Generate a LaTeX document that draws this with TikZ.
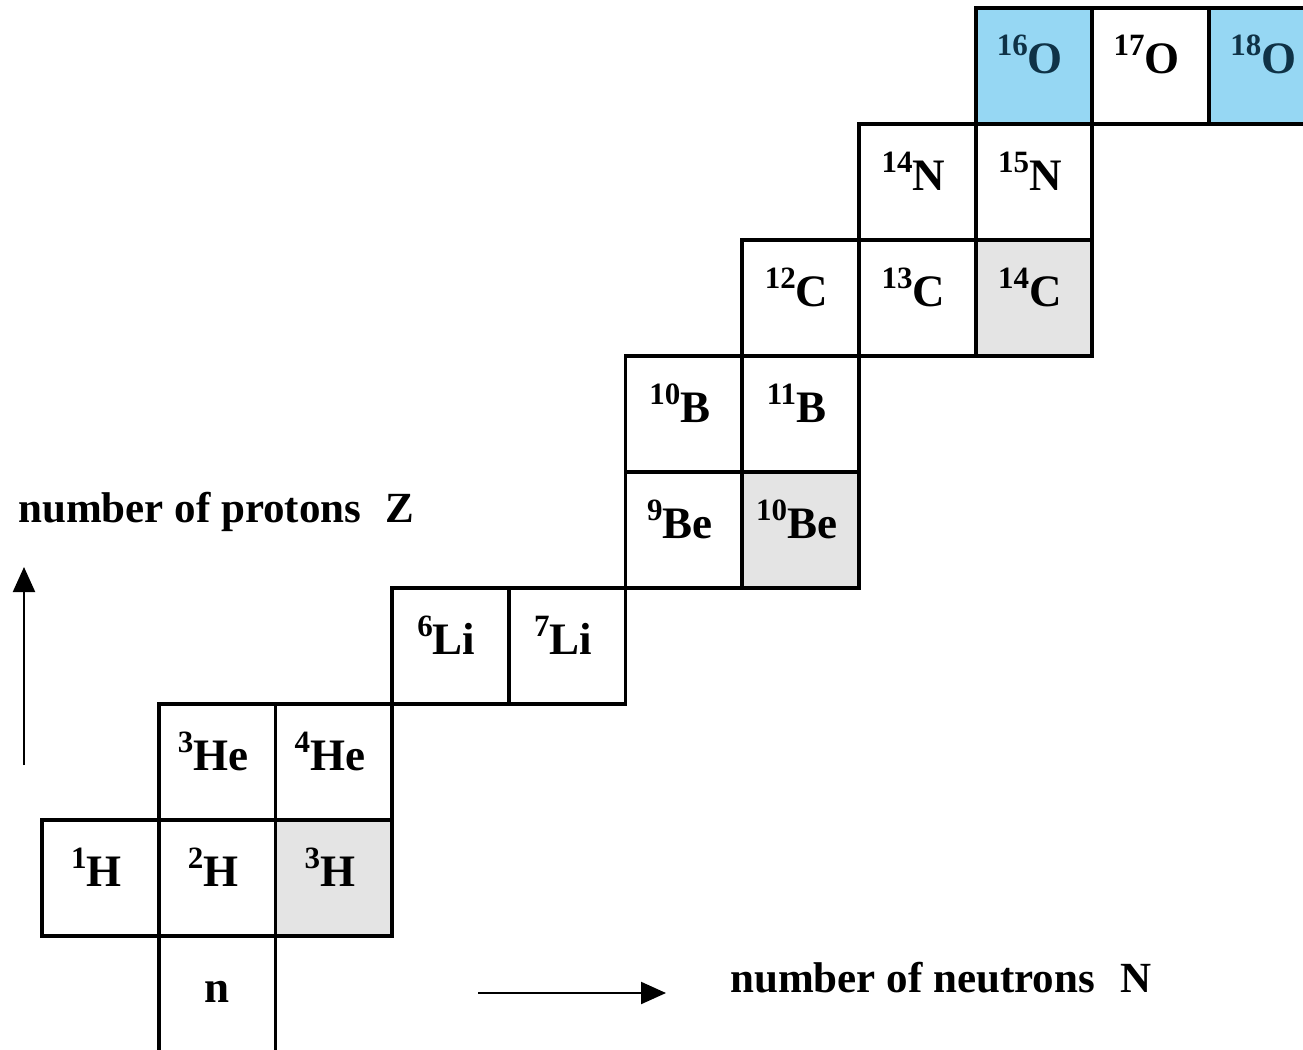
\documentclass[tikz,border=0pt]{standalone}
\usepackage{fontspec}
\setmainfont{Liberation Serif}
\usetikzlibrary{arrows.meta}
\definecolor{oblue}{RGB}{150,215,243}
\definecolor{cgray}{RGB}{228,228,228}
\definecolor{otext}{RGB}{15,50,70}
\newcommand\sps[1]{\raisebox{18pt}{\fontsize{31}{31}\selectfont #1}}
% name, N, Z, cell style, superscript, symbol
\newcommand\nuc[6]{%
  \node[cell,#4] (#1) at ({42+116.7*#2+58.35},{936-116*#3+58}) {};
  \node[lbl,anchor=base] (#1t) at ([xshift=-4pt,yshift=-8pt]#1.center) {\sps{#5}#6};
}
\begin{document}
\begin{tikzpicture}[x=1pt,y=-1pt,
  cell/.style={rectangle,draw=black,line width=3.8pt,minimum width=116.7pt,
    minimum height=116pt,inner sep=0pt,outer sep=0pt},
  stable/.style={fill=white},
  radio/.style={fill=cgray},
  oxy/.style={fill=oblue},
  lbl/.style={font=\bfseries\fontsize{45}{45}\selectfont,inner sep=0pt},
  axis/.style={font=\bfseries\fontsize{43}{43}\selectfont,inner sep=0pt,anchor=base west},
  axarrow/.style={line width=2.2pt,-{Triangle[length=25pt,width=22pt]}}]
\useasboundingbox (0,0) rectangle (1303,1049);
\clip (0,0) rectangle (1303,1049);
\fill[white] (0,0) rectangle (1303,1049);
% Z = 0
\node[cell,stable] (n) at ({42+116.7*1+58.35},{936+58}) {};
\node[lbl,anchor=base] (nt) at ([xshift=0pt,yshift=-8pt]n.center) {n};
% Z = 1
\nuc{h1}{0}{1}{stable}{1}{H}
\nuc{h2}{1}{1}{stable}{2}{H}
\nuc{h3}{2}{1}{radio}{3}{H}
% Z = 2
\nuc{he3}{1}{2}{stable}{3}{He}
\nuc{he4}{2}{2}{stable}{4}{He}
% Z = 3
\nuc{li6}{3}{3}{stable}{6}{Li}
\nuc{li7}{4}{3}{stable}{7}{Li}
% Z = 4
\nuc{be9}{5}{4}{stable}{9}{Be}
\nuc{be10}{6}{4}{radio}{10}{Be}
% Z = 5
\nuc{b10}{5}{5}{stable}{10}{B}
\nuc{b11}{6}{5}{stable}{11}{B}
% Z = 6
\nuc{c12}{6}{6}{stable}{12}{C}
\nuc{c13}{7}{6}{stable}{13}{C}
\nuc{c14}{8}{6}{radio}{14}{C}
% Z = 7
\nuc{n14}{7}{7}{stable}{14}{N}
\nuc{n15}{8}{7}{stable}{15}{N}
% Z = 8
\nuc{o16}{8}{8}{oxy}{\color{otext}16}{\textcolor{otext}{O}}
\nuc{o17}{9}{8}{stable}{17}{O}
\nuc{o18}{10}{8}{oxy}{\color{otext}18}{\textcolor{otext}{O}}
% axes
\node[axis] (zlab) at (18,522) {number of protons\hspace{0.55em}Z};
\node[axis] (nlab) at (730,992) {number of neutrons\hspace{0.6em}N};
\coordinate (zfrom) at (24,765);
\coordinate (zto) at (24,567);
\coordinate (nfrom) at (478,993);
\coordinate (nto) at (666,993);
\draw[axarrow] (zfrom) -- (zto);
\draw[axarrow] (nfrom) -- (nto);
\end{tikzpicture}
\end{document}
